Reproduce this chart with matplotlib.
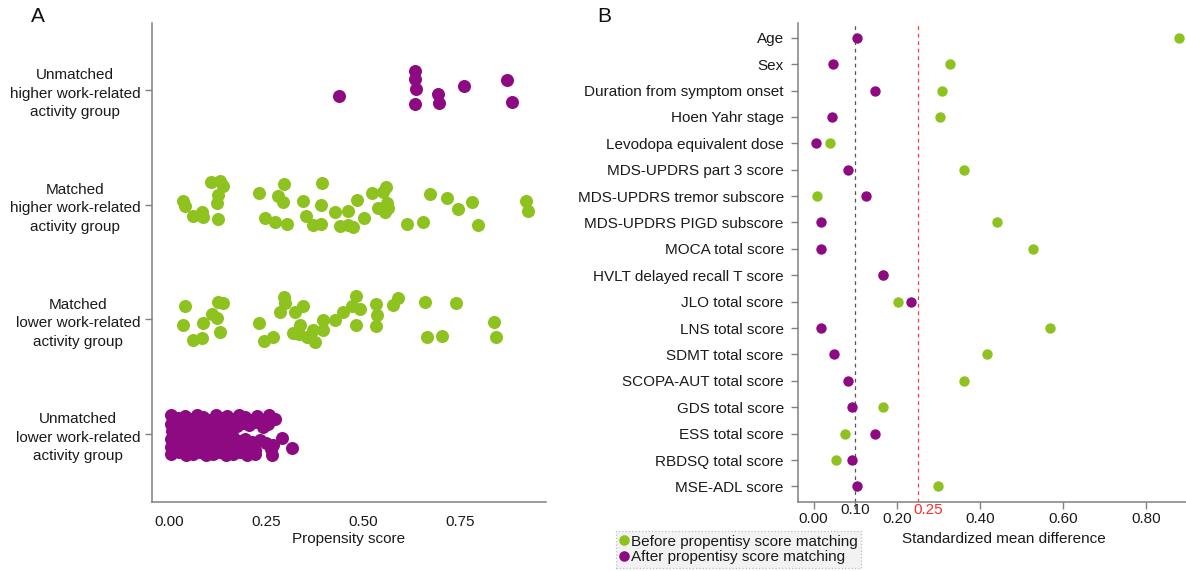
import matplotlib
matplotlib.use('Agg')
import matplotlib.pyplot as plt
from matplotlib.lines import Line2D

plt.rcParams['font.family'] = ['Liberation Sans', 'DejaVu Sans']

GREEN = '#8DC21F'
PURPLE = '#8E0A82'
TEXT = '#1a1a1a'
SPINE = '#808080'

# ---------------- Panel A data ----------------
group_labels = ['Unmatched\nlower work-related\nactivity group',
                'Matched\nlower work-related\nactivity group',
                'Matched\nhigher work-related\nactivity group',
                'Unmatched\nhigher work-related\nactivity group']
a_xticks = [0.0, 0.25, 0.50, 0.75]
a_xticklabels = ['0.00', '0.25', '0.50', '0.75']

# Unmatched higher work-related activity group (propensity score, vertical jitter)
uh_x = [0.439, 0.635, 0.633, 0.637, 0.635, 0.692, 0.696, 0.761, 0.871, 0.884]
uh_dy = [-0.050, 0.166, 0.093, 0.006, -0.125, -0.035, -0.116, 0.037, 0.087, -0.102]

# Matched higher work-related activity group
mh_x = [0.035, 0.041, 0.061, 0.084, 0.087, 0.107, 0.130, 0.140, 0.127, 0.123, 0.127,
        0.233, 0.297, 0.282, 0.293, 0.247, 0.273, 0.305, 0.345, 0.394, 0.392, 0.353,
        0.372, 0.391, 0.428, 0.462, 0.441, 0.462, 0.475, 0.484, 0.503, 0.522, 0.559,
        0.551, 0.539, 0.561, 0.565, 0.557, 0.613, 0.654, 0.673, 0.717, 0.746, 0.780,
        0.797, 0.919, 0.924]
mh_dy = [0.032, -0.009, -0.099, -0.061, -0.105, 0.201, 0.207, 0.166, 0.085, 0.012, -0.125,
         0.105, 0.178, 0.076, 0.021, -0.113, -0.148, -0.168, 0.035, 0.187, -0.003, -0.096,
         -0.177, -0.168, -0.061, -0.052, -0.183, -0.177, -0.192, 0.041, -0.119, 0.099, 0.157,
         0.113, -0.031, 0.012, -0.031, -0.061, -0.171, -0.148, 0.091, 0.061, -0.040, 0.021,
         -0.177, 0.035, -0.055]

# Matched lower work-related activity group
ml_x = [0.041, 0.035, 0.061, 0.084, 0.087, 0.127, 0.138, 0.110, 0.123, 0.130, 0.233,
        0.245, 0.269, 0.295, 0.299, 0.286, 0.325, 0.345, 0.338, 0.320, 0.336, 0.355,
        0.372, 0.376, 0.398, 0.398, 0.428, 0.449, 0.471, 0.483, 0.483, 0.492, 0.534,
        0.537, 0.534, 0.578, 0.591, 0.660, 0.740, 0.666, 0.703, 0.838, 0.843]
ml_dy = [0.116, -0.050, -0.180, -0.166, -0.035, 0.153, 0.139, 0.046, 0.009, -0.108, -0.035,
         -0.187, -0.157, 0.197, 0.145, 0.066, 0.066, 0.116, -0.050, -0.122, -0.128, -0.152,
         -0.093, -0.195, -0.006, -0.093, -0.006, 0.066, 0.116, 0.203, -0.050, 0.087, 0.133,
         0.037, -0.058, 0.125, 0.183, 0.153, 0.145, -0.152, -0.146, -0.021, -0.157]

# Unmatched lower work-related activity group (dense cluster)
ul_x = [0.006, 0.022, 0.040, 0.058, 0.072, 0.088, 0.104, 0.120, 0.136, 0.150, 0.166, 0.180,
        0.196, 0.212, 0.226, 0.240, 0.258, 0.272,
        0.004, 0.018, 0.034, 0.050, 0.066, 0.082, 0.098, 0.112, 0.128, 0.144, 0.160, 0.174,
        0.190, 0.206, 0.222, 0.242, 0.255,
        0.008, 0.024, 0.040, 0.056, 0.072, 0.088, 0.104, 0.118, 0.134, 0.150, 0.160,
        0.004, 0.020, 0.036, 0.052, 0.068, 0.084, 0.100, 0.116, 0.132, 0.148, 0.164, 0.180,
        0.196, 0.213, 0.235, 0.250, 0.269, 0.290,
        0.006, 0.022, 0.038, 0.054, 0.070, 0.086, 0.102, 0.118, 0.134, 0.150, 0.166, 0.182,
        0.198, 0.214, 0.222, 0.262, 0.316,
        0.004, 0.026, 0.044, 0.062, 0.080, 0.096, 0.114, 0.130, 0.148, 0.166, 0.184, 0.200,
        0.222, 0.265]
ul_dy = [0.17, 0.14, 0.16, 0.13, 0.17, 0.15, 0.12, 0.17, 0.14, 0.16, 0.13, 0.17,
         0.15, 0.12, 0.16, 0.11, 0.17, 0.13,
         0.09, 0.07, 0.10, 0.06, 0.08, 0.10, 0.07, 0.09, 0.06, 0.10, 0.08, 0.07,
         0.10, 0.08, 0.107, 0.064, 0.09,
         0.03, 0.00, 0.02, -0.01, 0.03, 0.01, -0.01, 0.02, 0.00, 0.03, 0.01,
         -0.04, -0.06, -0.03, -0.07, -0.05, -0.03, -0.06, -0.04, -0.07, -0.05, -0.03, -0.06,
         -0.04, -0.067, -0.052, -0.08, -0.096, -0.037,
         -0.11, -0.13, -0.10, -0.12, -0.14, -0.11, -0.13, -0.10, -0.12, -0.14, -0.11, -0.13,
         -0.12, -0.14, -0.14, -0.13, -0.125,
         -0.17, -0.16, -0.18, -0.17, -0.16, -0.18, -0.17, -0.16, -0.18, -0.17, -0.16, -0.18,
         -0.17, -0.183]

# ---------------- Panel B data ----------------
covariates = ['Age', 'Sex', 'Duration from symptom onset', 'Hoen Yahr stage',
              'Levodopa equivalent dose', 'MDS-UPDRS part 3 score', 'MDS-UPDRS tremor subscore',
              'MDS-UPDRS PIGD subscore', 'MOCA total score', 'HVLT delayed recall T score',
              'JLO total score', 'LNS total score', 'SDMT total score', 'SCOPA-AUT total score',
              'GDS total score', 'ESS total score', 'RBDSQ total score', 'MSE-ADL score']
smd_before = [0.878, 0.329, 0.310, 0.303, 0.039, 0.362, 0.008, 0.442, 0.527, 0.167,
              0.203, 0.569, 0.418, 0.362, 0.167, 0.076, 0.054, 0.300]
smd_after = [0.105, 0.047, 0.147, 0.044, 0.007, 0.082, 0.126, 0.018, 0.017, 0.167,
             0.235, 0.017, 0.049, 0.082, 0.093, 0.147, 0.093, 0.105]
b_xticks = [0.0, 0.1, 0.2, 0.4, 0.6, 0.8]
b_xticklabels = ['0.00', '', '0.20', '0.40', '0.60', '0.80']
thresholds = [0.10, 0.25]
threshold_labels = ['0.10', '0.25']
legend_labels = ['Before propentisy score matching', 'After propentisy score matching']

# ---------------- Figure ----------------
W, H = 1186, 571
fig = plt.figure(figsize=(W / 100, H / 100), dpi=100)

def fx(px):
    return px / W

def fy(py):
    return 1 - py / H

AX_TOP, AX_BOT = 22.7, 501.7
axA = fig.add_axes([fx(152), fy(AX_BOT), fx(545.6) - fx(152), fy(AX_TOP) - fy(AX_BOT)])
axB = fig.add_axes([fx(798.4), fy(AX_BOT), fx(1210) - fx(798.4), fy(AX_TOP) - fy(AX_BOT)])

for ax in (axA, axB):
    for s in ('top', 'right'):
        ax.spines[s].set_visible(False)
    for s in ('left', 'bottom'):
        ax.spines[s].set_color(SPINE)
        ax.spines[s].set_linewidth(1.1)

# Panel A
S_A = 88
groups = [(ul_x, ul_dy, 0, PURPLE), (ml_x, ml_dy, 1, GREEN),
          (mh_x, mh_dy, 2, GREEN), (uh_x, uh_dy, 3, PURPLE)]
for xs, dys, yc, col in groups:
    axA.scatter(xs, [yc + d for d in dys], s=S_A, color=col, linewidths=0, zorder=3)

axA.set_xlim(-0.044, 0.9706)
axA.set_ylim(-0.59, 3.586)
axA.set_xticks(a_xticks)
axA.set_xticklabels(a_xticklabels)
axA.set_yticks(range(4))
axA.set_yticklabels(group_labels, multialignment='center', linespacing=1.42)
axA.tick_params(axis='x', length=0, pad=9.5, labelsize=11, labelcolor=TEXT)
axA.tick_params(axis='y', length=5.3, width=1, color=SPINE, pad=3, labelsize=11, labelcolor=TEXT)
axA.set_xlabel('Propensity score', fontsize=11, color=TEXT)
axA.xaxis.set_label_coords(0.5, (AX_BOT - 539) / (AX_BOT - AX_TOP))
axA.xaxis.label.set_va('center')

# Panel B
S_B = 56
ypos = list(range(len(covariates)))
axB.scatter(smd_before, ypos, s=S_B, color=GREEN, linewidths=0, zorder=3, clip_on=False)
axB.scatter(smd_after, ypos, s=S_B, color=PURPLE, linewidths=0, zorder=4, clip_on=False)
axB.axvline(thresholds[0], color='#555555', lw=0.9, ls=(0, (3, 3)), zorder=2)
axB.axvline(thresholds[1], color='#ff3b3b', lw=0.9, ls=(0, (3, 3)), zorder=2)
axB.set_xlim(-0.0363, 0.953)
axB.set_ylim(17.58, -0.57)
axB.set_yticks(ypos)
axB.set_yticklabels(covariates)
axB.set_xticks(b_xticks)
axB.set_xticklabels(b_xticklabels)
axB.tick_params(axis='y', length=5, width=1, color=SPINE, pad=5.5, labelsize=11, labelcolor=TEXT)
axB.tick_params(axis='x', length=5, width=1, color=SPINE, pad=2.5, labelsize=11, labelcolor=TEXT)
axB.set_xlabel('Standardized mean difference', fontsize=11, color=TEXT)
axB.xaxis.set_label_coords((1004 - 798.4) / (1210 - 798.4), (AX_BOT - 539) / (AX_BOT - AX_TOP))
axB.xaxis.label.set_va('center')

axB.annotate(threshold_labels[0], xy=(thresholds[0], 0), xycoords=('data', 'axes fraction'),
             xytext=(0, -5.7), textcoords='offset points', ha='center', va='center',
             fontsize=11, color=TEXT)
axB.annotate(threshold_labels[1], xy=(thresholds[1], 0), xycoords=('data', 'axes fraction'),
             xytext=(7.4, -5.7), textcoords='offset points', ha='center', va='center',
             fontsize=11, color='#ff2a2a')

# Legend
handles = [Line2D([], [], ls='none', marker='o', ms=7.6, mfc=GREEN, mec='none'),
           Line2D([], [], ls='none', marker='o', ms=7.6, mfc=PURPLE, mec='none')]
leg = fig.legend(handles, legend_labels, loc='lower left',
                 bbox_to_anchor=(fx(615.6), fy(568)), borderaxespad=0,
                 fontsize=11, handlelength=0.6, handletextpad=0.15, borderpad=0.25,
                 labelspacing=0.1, frameon=True, fancybox=False, labelcolor=TEXT)
frame = leg.get_frame()
frame.set_facecolor('#efefef')
frame.set_edgecolor('#b0b0b0')
frame.set_linestyle(':')
frame.set_linewidth(0.9)

fig.text(fx(37.5), fy(17), 'A', fontsize=15, ha='center', va='center', color='#111111')
fig.text(fx(604), fy(17), 'B', fontsize=15, ha='center', va='center', color='#111111')

fig.savefig('out.png', dpi=100)
